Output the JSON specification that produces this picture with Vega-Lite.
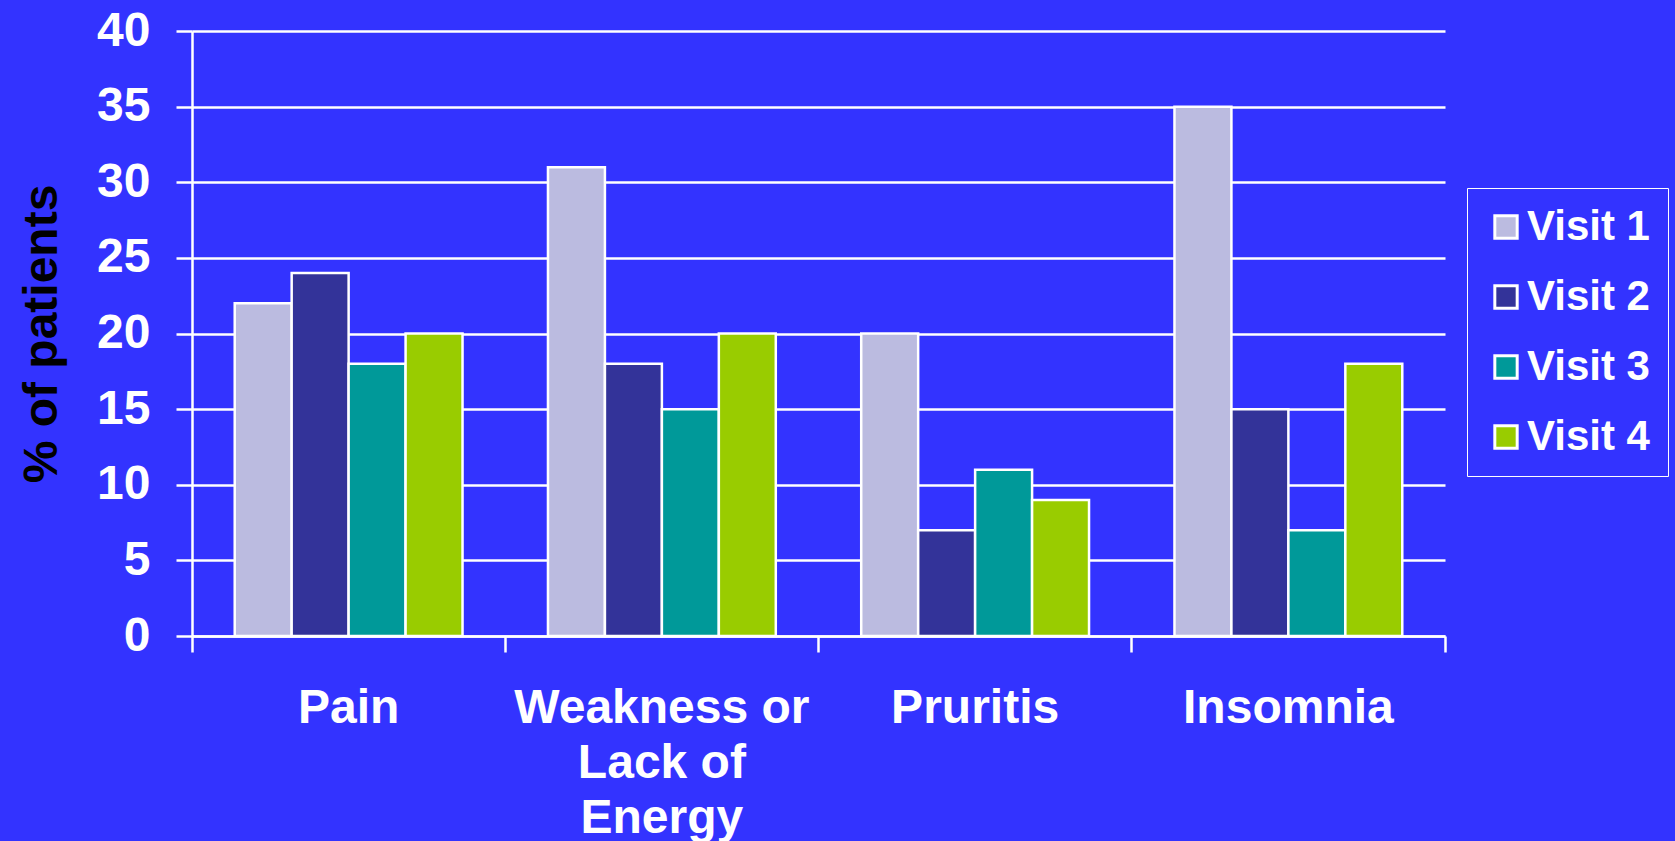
{
  "$schema": "https://vega.github.io/schema/vega-lite/v6.json",
  "width": 1253,
  "height": 605,
  "autosize": {"type": "none"},
  "padding": {"left": 192, "top": 31, "right": 230, "bottom": 205},
  "background": "#3333FF",
  "config": {
    "view": {"stroke": null},
    "font": "Liberation Sans"
  },
  "data": {
    "values": [
      {"symptom": "Pain", "visit": "Visit 1", "pct": 22},
      {"symptom": "Pain", "visit": "Visit 2", "pct": 24},
      {"symptom": "Pain", "visit": "Visit 3", "pct": 18},
      {"symptom": "Pain", "visit": "Visit 4", "pct": 20},
      {"symptom": "Weakness or Lack of Energy", "visit": "Visit 1", "pct": 31},
      {"symptom": "Weakness or Lack of Energy", "visit": "Visit 2", "pct": 18},
      {"symptom": "Weakness or Lack of Energy", "visit": "Visit 3", "pct": 15},
      {"symptom": "Weakness or Lack of Energy", "visit": "Visit 4", "pct": 20},
      {"symptom": "Pruritis", "visit": "Visit 1", "pct": 20},
      {"symptom": "Pruritis", "visit": "Visit 2", "pct": 7},
      {"symptom": "Pruritis", "visit": "Visit 3", "pct": 11},
      {"symptom": "Pruritis", "visit": "Visit 4", "pct": 9},
      {"symptom": "Insomnia", "visit": "Visit 1", "pct": 35},
      {"symptom": "Insomnia", "visit": "Visit 2", "pct": 15},
      {"symptom": "Insomnia", "visit": "Visit 3", "pct": 7},
      {"symptom": "Insomnia", "visit": "Visit 4", "pct": 18}
    ]
  },
  "mark": {"type": "bar", "stroke": "white", "strokeWidth": 2.5},
  "encoding": {
    "x": {
      "field": "symptom",
      "type": "nominal",
      "sort": ["Pain", "Weakness or Lack of Energy", "Pruritis", "Insomnia"],
      "scale": {"paddingInner": 0, "paddingOuter": 0},
      "axis": {
        "title": null,
        "bandPosition": 1,
        "tickExtra": true,
        "grid": false,
        "domainColor": "white",
        "domainWidth": 2.5,
        "tickColor": "white",
        "tickWidth": 2.5,
        "tickSize": 16,
        "labelColor": "white",
        "labelFontSize": 48,
        "labelFontWeight": "bold",
        "labelPadding": 32,
        "labelLimit": 0,
        "labelAngle": 0,
        "labelBaseline": "top",
        "labelLineHeight": 55,
        "labelExpr": "datum.value == 'Weakness or Lack of Energy' ? ['Weakness or', 'Lack of', 'Energy'] : datum.label"
      }
    },
    "xOffset": {
      "field": "visit",
      "type": "nominal",
      "sort": ["Visit 1", "Visit 2", "Visit 3", "Visit 4"],
      "scale": {"paddingInner": 0, "paddingOuter": 0.75}
    },
    "y": {
      "field": "pct",
      "type": "quantitative",
      "scale": {"domain": [0, 40], "nice": false},
      "axis": {
        "title": "% of patients",
        "values": [0, 5, 10, 15, 20, 25, 30, 35, 40],
        "labelFlush": false,
        "domainColor": "white",
        "domainWidth": 2.5,
        "tickColor": "white",
        "tickWidth": 2.5,
        "tickSize": 16,
        "grid": true,
        "gridColor": "white",
        "gridWidth": 2.5,
        "gridOpacity": 1,
        "labelColor": "white",
        "labelFontSize": 48,
        "labelFontWeight": "bold",
        "labelPadding": 26,
        "titleColor": "black",
        "titleFontSize": 48,
        "titleFontWeight": "bold",
        "titlePadding": 30
      }
    },
    "color": {
      "field": "visit",
      "type": "nominal",
      "scale": {
        "domain": ["Visit 1", "Visit 2", "Visit 3", "Visit 4"],
        "range": ["#BBBBE0", "#333399", "#009999", "#99CC00"]
      },
      "legend": {
        "title": null,
        "orient": "none",
        "legendX": 1275,
        "legendY": 157,
        "strokeColor": "white",
        "padding": 18,
        "symbolOffset": 0,
        "symbolType": "square",
        "symbolSize": 500,
        "symbolStrokeColor": "white",
        "symbolStrokeWidth": 3,
        "symbolOpacity": 1,
        "labelColor": "white",
        "labelFontSize": 42,
        "labelFontWeight": "bold",
        "labelOffset": 0,
        "rowPadding": 28
      }
    }
  }
}
